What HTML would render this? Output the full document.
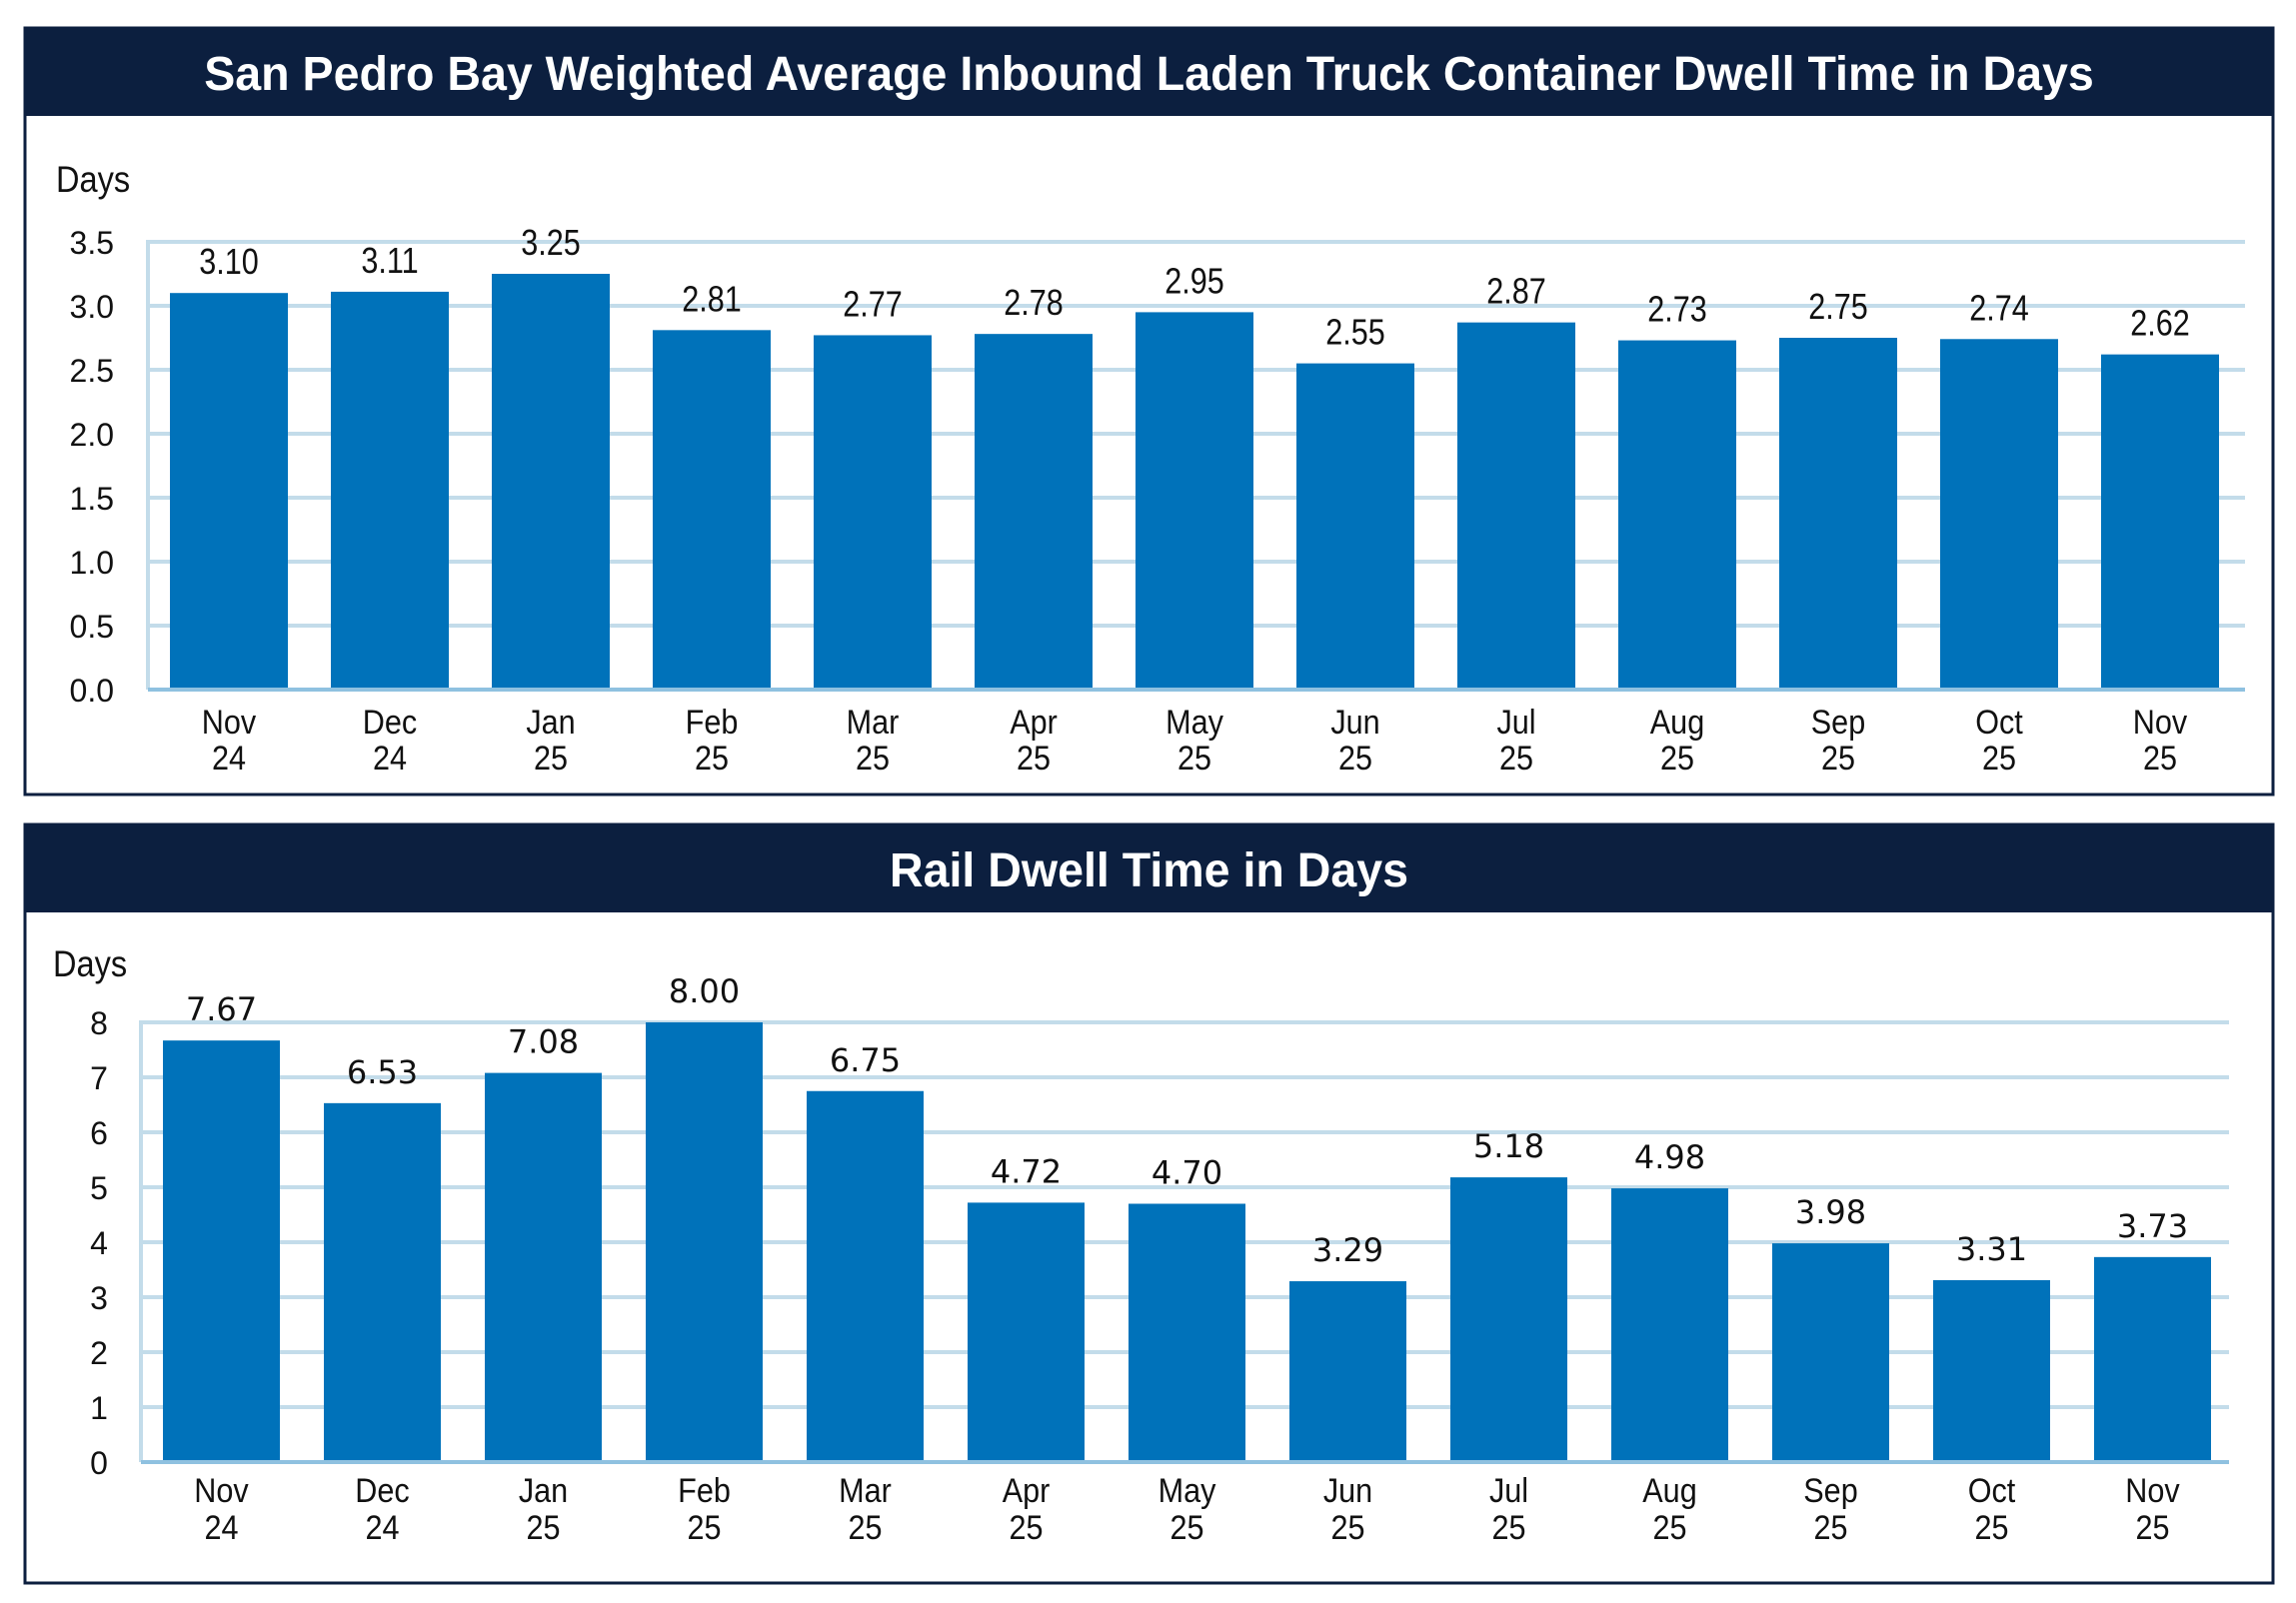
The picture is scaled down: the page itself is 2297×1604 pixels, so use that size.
<!DOCTYPE html>
<html><head><meta charset="utf-8">
<style>
html,body{margin:0;padding:0;background:#fff;}
body{width:2297px;height:1604px;position:relative;overflow:hidden;font-family:"Liberation Sans",sans-serif;}
svg{position:absolute;left:0;top:0;}
</style></head>
<body>
<svg id="chart" width="2297" height="1604"></svg>
<script>
// Truck chart data
const truckCategories = ["Nov|24","Dec|24","Jan|25","Feb|25","Mar|25","Apr|25","May|25","Jun|25","Jul|25","Aug|25","Sep|25","Oct|25","Nov|25"];
const truckValues = [3.10,3.11,3.25,2.81,2.77,2.78,2.95,2.55,2.87,2.73,2.75,2.74,2.62];
const truckTicks = ["0.0","0.5","1.0","1.5","2.0","2.5","3.0","3.5"];
// Rail chart data
const railCategories = ["Nov|24","Dec|24","Jan|25","Feb|25","Mar|25","Apr|25","May|25","Jun|25","Jul|25","Aug|25","Sep|25","Oct|25","Nov|25"];
const railValues = [7.67,6.53,7.08,8.00,6.75,4.72,4.70,3.29,5.18,4.98,3.98,3.31,3.73];
const railTicks = ["0","1","2","3","4","5","6","7","8"];

const NS="http://www.w3.org/2000/svg";
const svg=document.getElementById('chart');
function mk(tag,attrs,parent){const e=document.createElementNS(NS,tag);for(const k in attrs)e.setAttribute(k,attrs[k]);(parent||svg).appendChild(e);return e;}
function txt(parent,x,y,s,size,opts){
  const sx=opts.sx||1;
  const e=mk('text',{x:0,y:0,transform:'translate('+x+','+y+') scale('+sx+',1)','text-anchor':opts.anchor||'start',fill:opts.fill||'#111','font-size':size,'font-family':opts.font||'"Liberation Sans",sans-serif','font-weight':opts.weight||'normal'},parent);
  e.textContent=s;return e;
}

function panel(cfg){
  const g=mk('g',{});
  
  
  const box=mk('rect',{x:cfg.px,y:cfg.py,width:cfg.pw,height:cfg.ph,fill:'#fff',stroke:'#0c1f3f','stroke-width':3},g);
  
  
  const hdr=mk('rect',{x:cfg.px,y:cfg.py,width:cfg.pw,height:cfg.hh,fill:'#0c1f3f'},g);
  
  
  const t=txt(g,cfg.px+cfg.pw/2,cfg.py+cfg.hh/2+18,cfg.title,48,{anchor:'middle',fill:'#fff',weight:'bold',sx:0.97});
  
  
  const d=txt(g,cfg.daysX,cfg.daysY,'Days',37,{sx:0.88});
  
  
  const max=cfg.max;
  const y=v=>cfg.y0-(v/max)*(cfg.y0-cfg.yTop);
  const x=i=>cfg.bx0+i*cfg.step;
  cfg.ticks.forEach(tk=>{
    const v=parseFloat(tk);
    const gl=mk('line',{x1:cfg.ax,x2:cfg.gx2,y1:y(v),y2:y(v),stroke:'#c3dcea','stroke-width':4},g);
    
    
    const tl=txt(g,cfg.tickX,y(v)+12,tk,32,{anchor:cfg.tickAnchor});
    
    
  });
  const ay=mk('line',{x1:cfg.ax,x2:cfg.ax,y1:cfg.yTop-2,y2:cfg.y0,stroke:'#c3dcea','stroke-width':4},g);
  
  
  cfg.values.forEach((v,i)=>{
    const b=mk('rect',{x:x(i),y:y(v),width:cfg.bw,height:cfg.y0-y(v),fill:'#0072ba'},g);
    
    
    const vl=txt(g,x(i)+cfg.bw/2,y(v)-cfg.labelGap,v.toFixed(2),cfg.valSize,{anchor:'middle',font:cfg.valFont,sx:cfg.valSx});
    
    
    const parts=cfg.cats[i].split('|');
    const c1=txt(g,x(i)+cfg.bw/2,cfg.catY1,parts[0],34,{anchor:'middle',sx:0.9});
    
    
    const c2=txt(g,x(i)+cfg.bw/2,cfg.catY2,parts[1],34,{anchor:'middle',sx:0.9});
    
    
  });
  const ax=mk('line',{x1:cfg.ax,x2:cfg.gx2,y1:cfg.y0,y2:cfg.y0,stroke:'#8fc1e0','stroke-width':4},g);
  
  
}

panel({name:'truck-dwell-chart',title:'San Pedro Bay Weighted Average Inbound Laden Truck Container Dwell Time in Days',
  px:25,py:28,pw:2249,ph:767,hh:88,daysX:56,daysY:192,
  max:3.5,y0:690,yTop:242,ax:148,gx2:2246,bx0:170,step:161,bw:118,
  ticks:truckTicks,values:truckValues,cats:truckCategories,tickX:114,tickAnchor:'end',
  labelGap:19,valSize:36,valFont:'"Liberation Sans",sans-serif',valSx:0.85,catY1:734,catY2:770});

panel({name:'rail-dwell-chart',title:'Rail Dwell Time in Days',
  px:25,py:825,pw:2249,ph:759,hh:88,daysX:53,daysY:977,
  max:8,y0:1463,yTop:1023,ax:141,gx2:2230,bx0:163,step:161,bw:117,
  ticks:railTicks,values:railValues,cats:railCategories,tickX:99,tickAnchor:'middle',
  labelGap:20,valSize:32,valFont:'"DejaVu Sans",sans-serif',valSx:1,catY1:1503,catY2:1540});
</script>
</body></html>
